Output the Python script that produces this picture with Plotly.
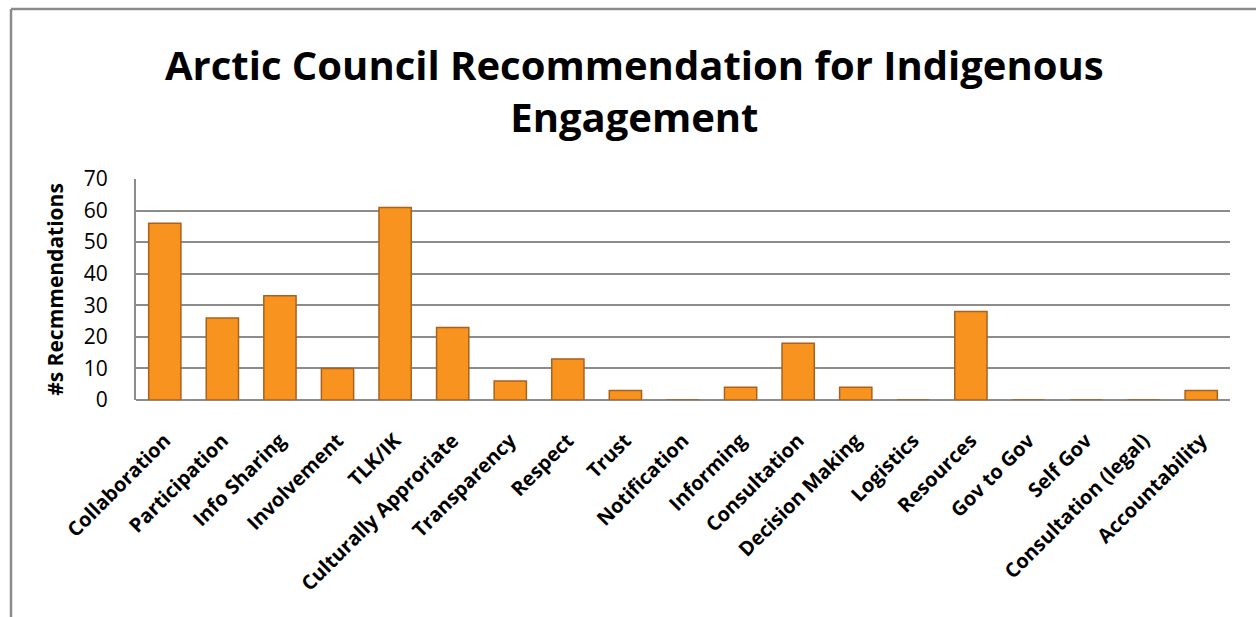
import plotly.graph_objects as go

categories = ["Collaboration", "Participation", "Info Sharing", "Involvement", "TLK/IK",
              "Culturally Approriate", "Transparency", "Respect", "Trust", "Notification",
              "Informing", "Consultation", "Decision Making", "Logistics", "Resources",
              "Gov to Gov", "Self Gov", "Consultation (legal)", "Accountability"]
values = [56, 26, 33, 10, 61, 23, 6, 13, 3, 0, 4, 18, 4, 0, 28, 0, 0, 0, 3]
y_ticks = [0, 10, 20, 30, 40, 50, 60, 70]

title_text = "Arctic Council Recommendation for Indigenous<br>Engagement"
y_title = "#s Recmmendations"

L, R, T, B = 136, 1230, 179, 400
W, H = 1256, 617
pw, ph = R - L, B - T

fig = go.Figure(go.Bar(
    x=categories, y=values,
    marker=dict(color="#F7931E", line=dict(color="#A8621E", width=1.5)),
))

grid = "#8C8C8C"
fig.update_layout(
    width=W, height=H,
    margin=dict(l=L, r=W - R, t=T, b=H - B, pad=0),
    paper_bgcolor="white", plot_bgcolor="white",
    bargap=0.44,
    showlegend=False,
    font=dict(family="Open Sans, Noto Sans, sans-serif", color="black"),
    xaxis=dict(tickangle=-45, tickfont=dict(size=20, weight="bold"),
               showgrid=False, showline=False, ticks="", automargin=False,
               ticklabelstandoff=24),
    yaxis=dict(range=[0, 70], tickvals=y_ticks, tickfont=dict(size=21),
               showgrid=True, gridcolor=grid, gridwidth=2,
               zeroline=True, zerolinecolor=grid, zerolinewidth=2,
               showline=True, linecolor=grid, linewidth=2,
               ticks="", ticklen=0, automargin=False, ticklabelstandoff=22,
               title=dict(text=y_title, font=dict(size=21, weight="bold"), standoff=14)),
)

fig.add_annotation(text=title_text, xref="paper", yref="paper",
                   x=(634 - L) / pw, y=(B - 90) / ph, xanchor="center", yanchor="middle",
                   showarrow=False, align="center",
                   font=dict(family="Open Sans", size=40, color="black", weight="bold"))

fx = (11 - L) / pw
fy = (B - 9) / ph
fig.add_shape(type="line", xref="paper", yref="paper", x0=fx, x1=fx, y0=fy, y1=-2,
              line=dict(color="#8C8C8C", width=2.5))
fig.add_shape(type="line", xref="paper", yref="paper", x0=fx, x1=1.2, y0=fy, y1=fy,
              line=dict(color="#8C8C8C", width=2.5))

fig.write_html("out.html")
